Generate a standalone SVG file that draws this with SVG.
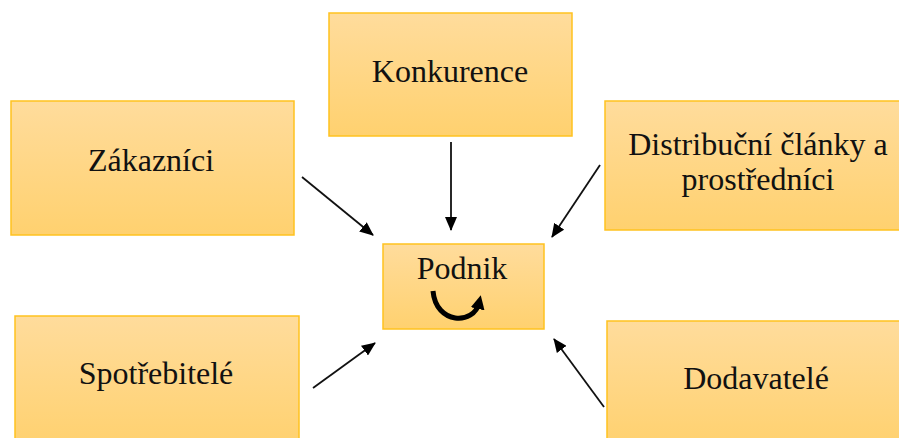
<svg xmlns="http://www.w3.org/2000/svg" width="899" height="438" viewBox="0 0 899 438">
<defs>
<linearGradient id="g" x1="0" y1="0" x2="0" y2="1">
<stop offset="0" stop-color="#FFDC9C"/>
<stop offset="1" stop-color="#FFD16F"/>
</linearGradient>
<marker id="ah" markerUnits="userSpaceOnUse" markerWidth="14" markerHeight="12" refX="13" refY="6" orient="auto">
<path d="M0,0 L14,6 L0,12 Z" fill="#000"/>
</marker>
<marker id="ch" markerUnits="userSpaceOnUse" markerWidth="14" markerHeight="14" refX="6" refY="7" orient="auto">
<path d="M0,0 L14,7 L0,14 Z" fill="#000"/>
</marker>
<style>
.box{fill:url(#g);stroke:#FFC21F;stroke-width:1.5}
.t{font-family:"Liberation Serif","Tinos","Times New Roman","DejaVu Serif",serif;font-size:32px;fill:#111;text-anchor:middle}
.c{stroke:#111;stroke-width:1.8;fill:none;marker-end:url(#ah)}
</style>
</defs>
<rect width="899" height="438" fill="#fff"/>
<g id="konkurence"><rect class="box" x="329" y="13" width="243" height="123"/><text class="t" x="450" y="82">Konkurence</text></g>
<g id="zakaznici"><rect class="box" x="11" y="101" width="283" height="134"/><text class="t" x="151" y="171">Zákazníci</text></g>
<g id="distribucni"><rect class="box" x="605" y="101" width="300" height="129"/><text class="t" x="758" y="155">Distribuční články a</text><text class="t" x="758" y="190">prostředníci</text></g>
<g id="spotrebitele"><rect class="box" x="15" y="316" width="284" height="130"/><text class="t" x="156" y="384">Spotřebitelé</text></g>
<g id="dodavatele"><rect class="box" x="607" y="321" width="300" height="125"/><text class="t" x="756" y="389">Dodavatelé</text></g>
<g id="podnik"><rect class="box" x="383" y="244" width="161" height="85"/><text class="t" x="462" y="279">Podnik</text>
<path d="M433 291 C436 325, 474 325, 479 303" stroke="#000" stroke-width="5" fill="none" marker-end="url(#ch)"/></g>
<g id="connectors">
<line class="c" x1="302" y1="177" x2="373" y2="235"/>
<line class="c" x1="451" y1="142" x2="451" y2="230"/>
<line class="c" x1="600" y1="165" x2="552" y2="237"/>
<line class="c" x1="313" y1="388" x2="375" y2="343"/>
<line class="c" x1="604" y1="407" x2="554" y2="339"/>
</g>
</svg>
